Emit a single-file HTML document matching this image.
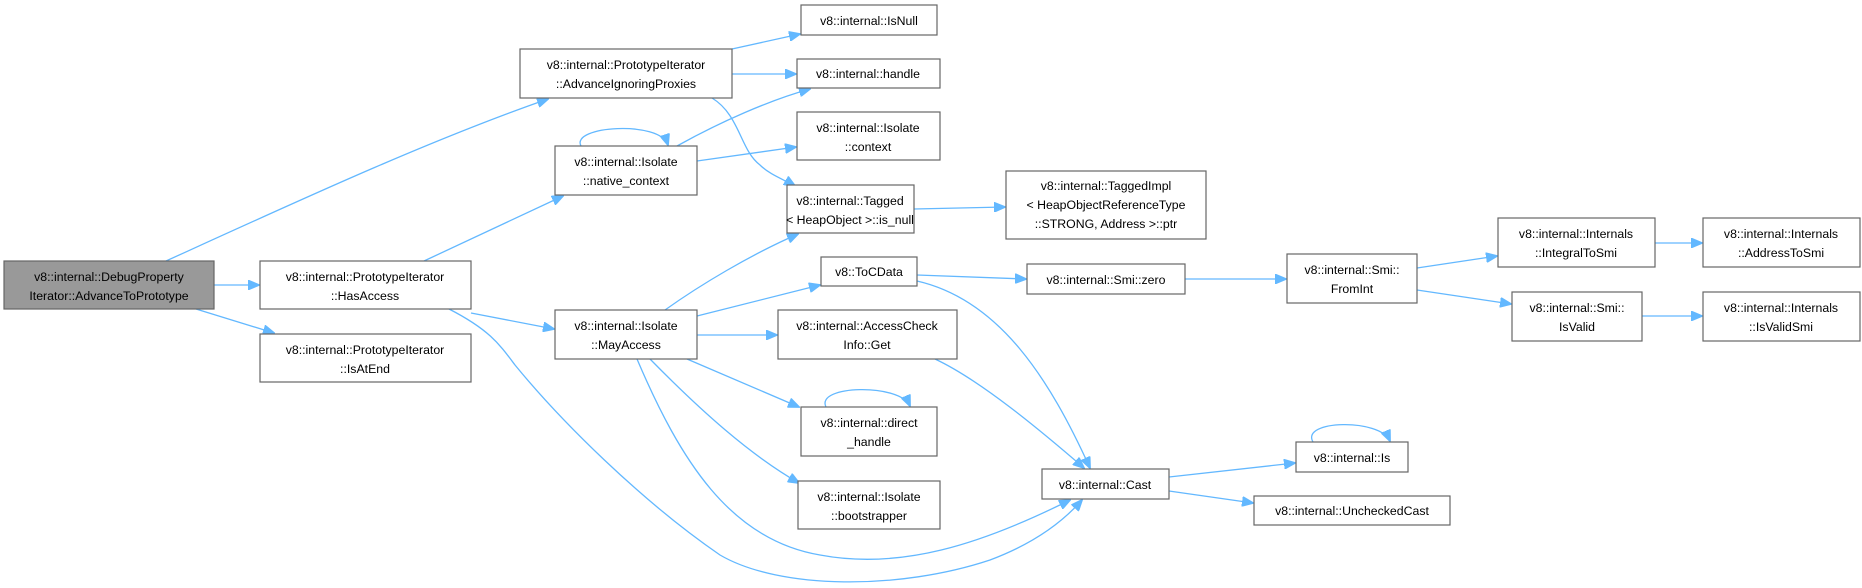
<!DOCTYPE html>
<html><head><meta charset="utf-8"><style>
html,body{margin:0;padding:0;background:#fff;}
svg{display:block;}
text{font-family:"Liberation Sans","DejaVu Sans",sans-serif;font-size:12.3px;fill:#000;}
.n{fill:#fff;stroke:#666;stroke-width:1.2;}
.e{fill:none;stroke:#63b8ff;stroke-width:1.3;}
</style></head><body>
<svg width="1862" height="588" viewBox="0 0 1862 588" xmlns="http://www.w3.org/2000/svg">
<defs><marker id="a" markerWidth="12" markerHeight="10" refX="11" refY="5" orient="auto" markerUnits="userSpaceOnUse"><path d="M0,0 L12,5 L0,10 z" fill="#63b8ff" stroke="#63b8ff"/></marker></defs>
<g marker-end="url(#a)">
<path class="e" d="M166,261 C300,200 430,140 548,99"/>
<path class="e" d="M214,285 L259,285"/>
<path class="e" d="M196,309 L274,333"/>
<path class="e" d="M424,261 L563,196"/>
<path class="e" d="M471,313 L554,329"/>
<path class="e" d="M449,309 C490,330 500,345 515,365 C560,420 640,500 720,555 C780,590 900,590 990,560 C1030,545 1060,525 1082,500"/>
<path class="e" d="M732,49 L800,34"/>
<path class="e" d="M732,74 L796,74"/>
<path class="e" d="M712,98 C740,115 740,150 760,165 C770,175 785,180 795,186"/>
<path class="e" d="M581,146 C570,126 660,120 668,145"/>
<path class="e" d="M677,146 C720,122 770,100 810,89"/>
<path class="e" d="M697,161 L796,147"/>
<path class="e" d="M665,310 C700,285 750,255 798,234"/>
<path class="e" d="M697,316 L820,285"/>
<path class="e" d="M697,335 L777,335"/>
<path class="e" d="M687,359 L799,407"/>
<path class="e" d="M650,359 C700,410 750,455 799,483"/>
<path class="e" d="M637,359 C680,460 730,540 820,555 C900,570 980,545 1070,500"/>
<path class="e" d="M917,275 L1026,279"/>
<path class="e" d="M917,281 C1000,300 1050,380 1090,468"/>
<path class="e" d="M935,359 C980,380 1040,430 1084,468"/>
<path class="e" d="M914,209 L1005,207"/>
<path class="e" d="M1185,279 L1286,279"/>
<path class="e" d="M1417,268 L1497,256"/>
<path class="e" d="M1417,290 L1511,304"/>
<path class="e" d="M1655,243 L1702,243"/>
<path class="e" d="M1642,316 L1702,316"/>
<path class="e" d="M1169,477 L1295,463"/>
<path class="e" d="M1169,491 L1253,503"/>
<path class="e" d="M1313,442 C1300,420 1380,418 1390,441"/>
<path class="e" d="M826,407 C815,385 900,383 910,406"/>
</g>
<rect x="4" y="261" width="210" height="48" fill="#999" stroke="#666" stroke-width="1.2"/>
<text x="109" y="281" text-anchor="middle">v8::internal::DebugProperty</text><text x="109" y="300" text-anchor="middle">Iterator::AdvanceToPrototype</text>
<rect class="n" x="260" y="261" width="211" height="48"/><text x="365" y="281" text-anchor="middle">v8::internal::PrototypeIterator</text><text x="365" y="300" text-anchor="middle">::HasAccess</text>
<rect class="n" x="260" y="334" width="211" height="48"/><text x="365" y="354" text-anchor="middle">v8::internal::PrototypeIterator</text><text x="365" y="373" text-anchor="middle">::IsAtEnd</text>
<rect class="n" x="520" y="49" width="212" height="49"/><text x="626" y="69" text-anchor="middle">v8::internal::PrototypeIterator</text><text x="626" y="88" text-anchor="middle">::AdvanceIgnoringProxies</text>
<rect class="n" x="555" y="146" width="142" height="49"/><text x="626" y="166" text-anchor="middle">v8::internal::Isolate</text><text x="626" y="185" text-anchor="middle">::native_context</text>
<rect class="n" x="555" y="310" width="142" height="49"/><text x="626" y="330" text-anchor="middle">v8::internal::Isolate</text><text x="626" y="349" text-anchor="middle">::MayAccess</text>
<rect class="n" x="801" y="5" width="136" height="30"/><text x="869" y="25" text-anchor="middle">v8::internal::IsNull</text>
<rect class="n" x="797" y="59" width="143" height="29"/><text x="868" y="78" text-anchor="middle">v8::internal::handle</text>
<rect class="n" x="797" y="112" width="143" height="48"/><text x="868" y="132" text-anchor="middle">v8::internal::Isolate</text><text x="868" y="151" text-anchor="middle">::context</text>
<rect class="n" x="787" y="185" width="127" height="48"/><text x="850" y="205" text-anchor="middle">v8::internal::Tagged</text><text x="850" y="224" text-anchor="middle">&lt; HeapObject &gt;::is_null</text>
<rect class="n" x="821" y="257" width="96" height="29"/><text x="869" y="276" text-anchor="middle">v8::ToCData</text>
<rect class="n" x="778" y="310" width="179" height="49"/><text x="867" y="330" text-anchor="middle">v8::internal::AccessCheck</text><text x="867" y="349" text-anchor="middle">Info::Get</text>
<rect class="n" x="801" y="407" width="136" height="49"/><text x="869" y="427" text-anchor="middle">v8::internal::direct</text><text x="869" y="446" text-anchor="middle">_handle</text>
<rect class="n" x="798" y="481" width="142" height="48"/><text x="869" y="501" text-anchor="middle">v8::internal::Isolate</text><text x="869" y="520" text-anchor="middle">::bootstrapper</text>
<rect class="n" x="1006" y="171" width="200" height="68"/><text x="1106" y="190" text-anchor="middle">v8::internal::TaggedImpl</text><text x="1106" y="209" text-anchor="middle">&lt; HeapObjectReferenceType</text><text x="1106" y="228" text-anchor="middle">::STRONG, Address &gt;::ptr</text>
<rect class="n" x="1027" y="264" width="158" height="30"/><text x="1106" y="284" text-anchor="middle">v8::internal::Smi::zero</text>
<rect class="n" x="1287" y="254" width="130" height="49"/><text x="1352" y="274" text-anchor="middle">v8::internal::Smi::</text><text x="1352" y="293" text-anchor="middle">FromInt</text>
<rect class="n" x="1498" y="218" width="157" height="49"/><text x="1576" y="238" text-anchor="middle">v8::internal::Internals</text><text x="1576" y="257" text-anchor="middle">::IntegralToSmi</text>
<rect class="n" x="1703" y="218" width="157" height="49"/><text x="1781" y="238" text-anchor="middle">v8::internal::Internals</text><text x="1781" y="257" text-anchor="middle">::AddressToSmi</text>
<rect class="n" x="1512" y="292" width="130" height="49"/><text x="1577" y="312" text-anchor="middle">v8::internal::Smi::</text><text x="1577" y="331" text-anchor="middle">IsValid</text>
<rect class="n" x="1703" y="292" width="157" height="49"/><text x="1781" y="312" text-anchor="middle">v8::internal::Internals</text><text x="1781" y="331" text-anchor="middle">::IsValidSmi</text>
<rect class="n" x="1042" y="469" width="127" height="30"/><text x="1105" y="489" text-anchor="middle">v8::internal::Cast</text>
<rect class="n" x="1296" y="442" width="112" height="30"/><text x="1352" y="462" text-anchor="middle">v8::internal::Is</text>
<rect class="n" x="1254" y="496" width="196" height="29"/><text x="1352" y="515" text-anchor="middle">v8::internal::UncheckedCast</text>
</svg>
</body></html>
